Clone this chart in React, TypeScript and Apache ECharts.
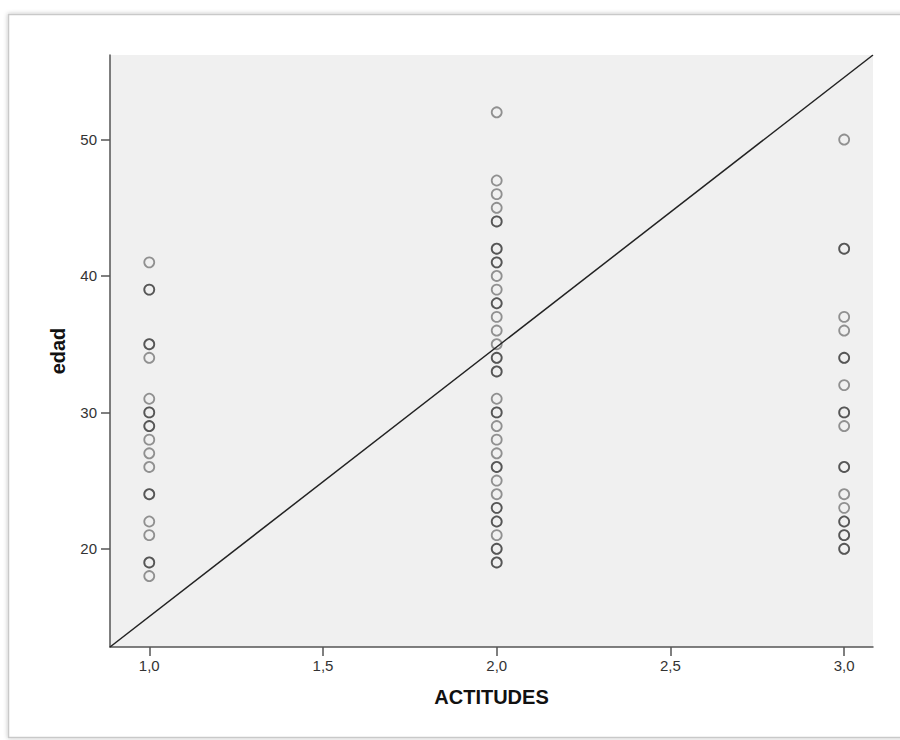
import React, { useEffect, useRef } from "react";
import * as echarts from "echarts";

// edad by ACTITUDES group (repeated values are listed once per case)
const edadGrupo1 = [41, 39, 39, 35, 35, 34, 31, 30, 30, 29, 29, 28, 27, 26, 24, 24, 22, 21, 19, 19, 18];
const edadGrupo2 = [
  52, 47, 46, 45, 44, 44, 42, 42, 41, 41, 40, 39, 38, 38, 37, 36, 35, 34, 34, 33, 33, 31, 30, 30,
  29, 28, 27, 26, 26, 25, 24, 23, 23, 22, 22, 21, 20, 20, 19, 19,
];
const edadGrupo3 = [50, 42, 42, 37, 36, 34, 34, 32, 30, 30, 29, 26, 26, 24, 23, 22, 22, 21, 21, 20, 20];
const grupos = [1, 2, 3];

const xTicks = [1.0, 1.5, 2.0, 2.5, 3.0];
const yTicks = [20, 30, 40, 50];
const xRange = [0.887, 3.083];
const yRange = [12.8, 56.2];

export default function App() {
  const ref = useRef<HTMLDivElement>(null);

  useEffect(() => {
    if (!ref.current) return;
    const chart = echarts.init(ref.current, null, { renderer: "svg" });

    const points: number[][] = [];
    [edadGrupo1, edadGrupo2, edadGrupo3].forEach((vals, i) => {
      vals.forEach((v) => points.push([grupos[i], v]));
    });

    const fmt = (v: number) => v.toFixed(1).replace(".", ",");
    const axisColor = "#555";
    const labelFont = "'Liberation Sans', Arial, sans-serif";
    const titleStyle = {
      fontFamily: "'Liberation Sans', Arial, sans-serif",
      fontWeight: "bold",
      fontSize: 20,
      color: "#111",
    };

    chart.setOption({
      animation: false,
      backgroundColor: "#ffffff",
      graphic: [
        {
          type: "rect",
          z: -10,
          shape: { x: 8.5, y: 14.5, width: 900, height: 723 },
          style: {
            fill: "#ffffff",
            stroke: "#c9c9c9",
            lineWidth: 1.5,
            shadowBlur: 4,
            shadowColor: "rgba(0,0,0,0.25)",
          },
        },
      ],
      grid: {
        left: 110,
        top: 55,
        right: 27,
        bottom: 93,
        show: true,
        backgroundColor: "#f0f0f0",
        borderWidth: 0,
      },
      xAxis: {
        type: "value",
        min: xRange[0],
        max: xRange[1],
        name: "ACTITUDES",
        nameLocation: "middle",
        nameGap: 40,
        nameTextStyle: titleStyle,
        splitLine: { show: false },
        axisLine: { show: true, onZero: false, lineStyle: { color: axisColor, width: 1.5 } },
        axisTick: { show: true, customValues: xTicks, length: 9, lineStyle: { color: axisColor, width: 1.5 } },
        axisLabel: {
          customValues: xTicks,
          formatter: (v: number) => fmt(v),
          margin: 11,
          fontSize: 15,
          fontFamily: labelFont,
          color: "#333",
        },
      },
      yAxis: {
        type: "value",
        min: yRange[0],
        max: yRange[1],
        name: "edad",
        nameLocation: "middle",
        nameGap: 42,
        nameRotate: 90,
        nameTextStyle: titleStyle,
        splitLine: { show: false },
        axisLine: { show: true, onZero: false, lineStyle: { color: axisColor, width: 1.5 } },
        axisTick: { show: true, customValues: yTicks, length: 9, lineStyle: { color: axisColor, width: 1.5 } },
        axisLabel: {
          customValues: yTicks,
          margin: 13,
          fontSize: 15,
          fontFamily: labelFont,
          color: "#333",
        },
      },
      series: [
        {
          type: "line",
          data: [
            [xRange[0], yRange[0]],
            [xRange[1], yRange[1]],
          ],
          symbol: "none",
          lineStyle: { color: "#222", width: 1.5 },
          z: 3,
        },
        {
          type: "scatter",
          data: points,
          symbol: "circle",
          symbolSize: 10,
          itemStyle: {
            color: "rgba(0,0,0,0)",
            borderColor: "rgba(0,0,0,0.5)",
            borderWidth: 1.8,
          },
          z: 2,
        },
      ],
    });

    return () => chart.dispose();
  }, []);

  return (
    <div
      ref={ref}
      style={{ position: "fixed", left: 0, top: 0, width: 900, height: 740 }}
    />
  );
}
